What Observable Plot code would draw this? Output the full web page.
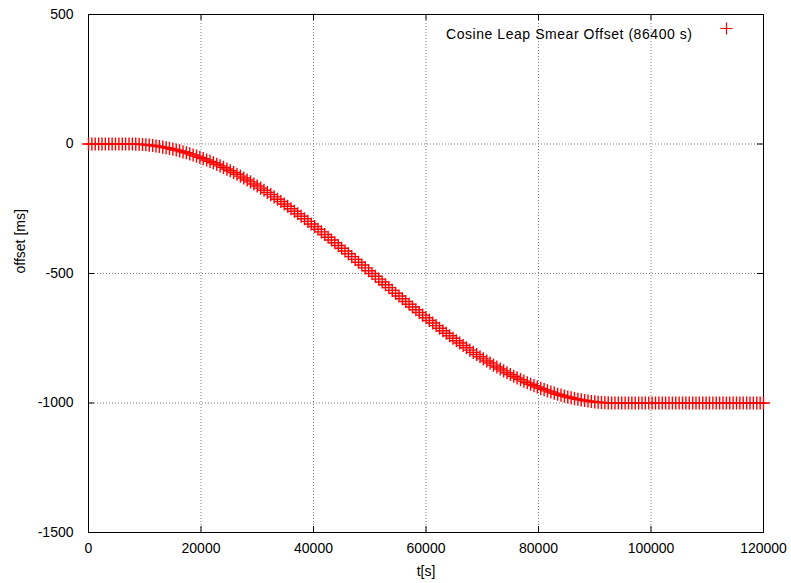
<!DOCTYPE html>
<html>
<head>
<meta charset="utf-8">
<script src="https://cdn.jsdelivr.net/npm/d3@7"></script>
<script src="https://cdn.jsdelivr.net/npm/@observablehq/plot@0.6"></script>
<style>
  html, body { margin: 0; padding: 0; background: white; }
</style>
</head>
<body>
<div id="chart"></div>
<script>
// ---- data ----
const seriesName = "Cosine Leap Smear Offset (86400 s)";
const xTicks = [0, 20000, 40000, 60000, 80000, 100000, 120000];
const yTicks = [-1500, -1000, -500, 0, 500];
const tValues = [
  0, 600, 1200, 1800, 2400, 3000, 3600, 4200, 4800, 5400,
  6000, 6600, 7200, 7800, 8400, 9000, 9600, 10200, 10800, 11400,
  12000, 12600, 13200, 13800, 14400, 15000, 15600, 16200, 16800, 17400,
  18000, 18600, 19200, 19800, 20400, 21000, 21600, 22200, 22800, 23400,
  24000, 24600, 25200, 25800, 26400, 27000, 27600, 28200, 28800, 29400,
  30000, 30600, 31200, 31800, 32400, 33000, 33600, 34200, 34800, 35400,
  36000, 36600, 37200, 37800, 38400, 39000, 39600, 40200, 40800, 41400,
  42000, 42600, 43200, 43800, 44400, 45000, 45600, 46200, 46800, 47400,
  48000, 48600, 49200, 49800, 50400, 51000, 51600, 52200, 52800, 53400,
  54000, 54600, 55200, 55800, 56400, 57000, 57600, 58200, 58800, 59400,
  60000, 60600, 61200, 61800, 62400, 63000, 63600, 64200, 64800, 65400,
  66000, 66600, 67200, 67800, 68400, 69000, 69600, 70200, 70800, 71400,
  72000, 72600, 73200, 73800, 74400, 75000, 75600, 76200, 76800, 77400,
  78000, 78600, 79200, 79800, 80400, 81000, 81600, 82200, 82800, 83400,
  84000, 84600, 85200, 85800, 86400, 87000, 87600, 88200, 88800, 89400,
  90000, 90600, 91200, 91800, 92400, 93000, 93600, 94200, 94800, 95400,
  96000, 96600, 97200, 97800, 98400, 99000, 99600, 100200, 100800, 101400,
  102000, 102600, 103200, 103800, 104400, 105000, 105600, 106200, 106800, 107400,
  108000, 108600, 109200, 109800, 110400, 111000, 111600, 112200, 112800, 113400,
  114000, 114600, 115200, 115800, 116400, 117000, 117600, 118200, 118800, 119400,
  120000
];
const offsetValues = [
  0, 0, 0, 0, 0, 0, 0, 0, 0, 0,
  0, 0, 0, -0.1, -0.5, -1.1, -1.9, -3.0, -4.3, -5.8,
  -7.6, -9.6, -11.9, -14.3, -17.0, -20.0, -23.1, -26.5, -30.2, -34.0,
  -38.1, -42.3, -46.8, -51.6, -56.5, -61.6, -67.0, -72.5, -78.3, -84.3,
  -90.4, -96.8, -103.3, -110.1, -117.0, -124.1, -131.4, -138.8, -146.4, -154.2,
  -162.2, -170.3, -178.6, -187.0, -195.6, -204.3, -213.2, -222.2, -231.4, -240.6,
  -250.0, -259.5, -269.1, -278.9, -288.7, -298.6, -308.7, -318.8, -329.0, -339.3,
  -349.6, -360.1, -370.6, -381.2, -391.8, -402.5, -413.2, -423.9, -434.7, -445.6,
  -456.4, -467.3, -478.2, -489.1, -500.0, -510.9, -521.8, -532.7, -543.6, -554.4,
  -565.3, -576.1, -586.8, -597.5, -608.2, -618.8, -629.4, -639.9, -650.4, -660.7,
  -671.0, -681.2, -691.3, -701.4, -711.3, -721.1, -730.9, -740.5, -750.0, -759.4,
  -768.6, -777.8, -786.8, -795.7, -804.4, -813.0, -821.4, -829.7, -837.8, -845.8,
  -853.6, -861.2, -868.6, -875.9, -883.0, -889.9, -896.7, -903.2, -909.6, -915.7,
  -921.7, -927.5, -933.0, -938.4, -943.5, -948.4, -953.2, -957.7, -961.9, -966.0,
  -969.8, -973.5, -976.9, -980.0, -983.0, -985.7, -988.1, -990.4, -992.4, -994.2,
  -995.7, -997.0, -998.1, -998.9, -999.5, -999.9, -1000, -1000, -1000, -1000,
  -1000, -1000, -1000, -1000, -1000, -1000, -1000, -1000, -1000, -1000,
  -1000, -1000, -1000, -1000, -1000, -1000, -1000, -1000, -1000, -1000,
  -1000, -1000, -1000, -1000, -1000, -1000, -1000, -1000, -1000, -1000,
  -1000, -1000, -1000, -1000, -1000, -1000, -1000, -1000, -1000, -1000,
  -1000
];
const xLabel = "t[s]";
const yLabel = "offset [ms]";

// ---- build table ----
const data = tValues.map((t, i) => ({ t, offset: offsetValues[i] }));

const W = 791, H = 583;
const mL = 88, mR = 28, mT = 14, mB = 51;
const innerW = W - mL - mR, innerH = H - mT - mB;
const tickLen = 6;
const font = "'Liberation Sans', Arial, Helvetica, sans-serif";
const fs = 14;
const red = "#ff0000";
const gridInnerX = xTicks.slice(1, -1);
const gridInnerY = yTicks.slice(1, -1);

const chart = Plot.plot({
  width: W,
  height: H,
  marginLeft: mL,
  marginRight: mR,
  marginTop: mT,
  marginBottom: mB,
  style: { fontFamily: font, fontSize: fs + "px", background: "white", color: "black" },
  x: { domain: [0, 120000], ticks: xTicks, tickFormat: d => String(d) },
  y: { domain: [-1500, 500], ticks: yTicks, tickFormat: d => String(d) },
  marks: [
    Plot.gridX(gridInnerX, { stroke: "#808080", strokeOpacity: 1, strokeWidth: 1, strokeDasharray: "1,2" }),
    Plot.gridY(gridInnerY, { stroke: "#808080", strokeOpacity: 1, strokeWidth: 1, strokeDasharray: "1,2" }),
    // inward tick marks on all four sides
    Plot.tickX(xTicks, { x: d => d, stroke: "black", insetTop: innerH - tickLen }),
    Plot.tickX(xTicks, { x: d => d, stroke: "black", insetBottom: innerH - tickLen }),
    Plot.tickY(yTicks, { y: d => d, stroke: "black", insetRight: innerW - tickLen }),
    Plot.tickY(yTicks, { y: d => d, stroke: "black", insetLeft: innerW - tickLen }),
    Plot.axisX({ ticks: xTicks, tickFormat: d => String(d), tickSize: 0, tickPadding: 11, fontSize: fs, label: null, fill: "black" }),
    Plot.axisY({ ticks: yTicks, tickFormat: d => String(d), tickSize: 0, tickPadding: 15, fontSize: fs, label: null, fill: "black" }),
    Plot.frame({ stroke: "black", strokeWidth: 1 }),
    // data points
    Plot.dot(data, { x: "t", y: "offset", symbol: "plus", stroke: red, strokeWidth: 1.4, r: 4.3 }),
    // legend
    Plot.text([seriesName], { text: d => d, frameAnchor: "top-right", dx: -71, dy: 15, textAnchor: "end", fontSize: fs, fill: "black", className: "legend-label" }),
    Plot.dot([seriesName], { frameAnchor: "top-right", dx: -37, dy: 14, symbol: "plus", stroke: red, strokeWidth: 1.2, r: 4.0 }),
    // axis titles
    Plot.text([xLabel], { text: d => d, frameAnchor: "bottom", dy: 43, fontSize: fs, fill: "black" }),
    Plot.text([yLabel], { text: d => d, frameAnchor: "left", dx: -68, rotate: -90, fontSize: fs, fill: "black" })
  ]
});

// gnuplot spaces the legend glyphs a little wider
d3.select(chart).selectAll(".legend-label text").attr("letter-spacing", "0.55px");

document.getElementById("chart").appendChild(chart);
</script>
</body>
</html>
